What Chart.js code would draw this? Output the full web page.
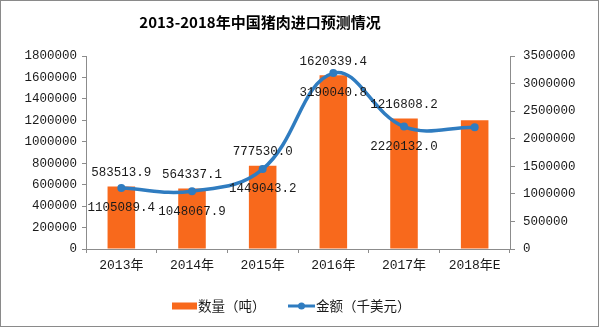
<!DOCTYPE html>
<html>
<head>
<meta charset="utf-8">
<script src="https://cdn.jsdelivr.net/npm/chart.js@4/dist/chart.umd.min.js"></script>
<style>
  html, body { margin: 0; padding: 0; background: #fff; }
  #wrap { width: 599px; height: 327px; }
</style>
</head>
<body>
<div id="wrap"><canvas id="c" width="599" height="327"></canvas></div>
<script>
// 2013-2018 China pork imports: volume (tonnes) and value (thousand USD)
const categories = ['2013年', '2014年', '2015年', '2016年', '2017年', '2018年E'];
const volumeTonnes = [583513.9, 564337.1, 777530.0, 1620339.4, 1216808.2, 1200000];
const valueKUsd = [1105089.4, 1048067.9, 1449043.2, 3190040.8, 2220132.0, 2210000];
const hasLabel = [true, true, true, true, true, false];
const leftTicks = { min: 0, max: 1800000, step: 200000 };
const rightTicks = { min: 0, max: 3500000, step: 500000 };

const titleText = '2013-2018年中国猪肉进口预测情况';
const barName = '数量（吨）';
const lineName = '金额（千美元）';

const BAR_COLOR = '#F8691C';
const LINE_COLOR = '#2F7CC0';
const AXIS_COLOR = '#8c8c8c';
const TEXT_COLOR = '#1a1a1a';
const NUM_FONT = '"Liberation Mono", "Noto Sans CJK SC", monospace';
const CJK_FONT = '"Noto Sans CJK SC", sans-serif';

const plainNumber = v => String(v);

const decorPlugin = {
  id: 'decor',
  afterDatasetsDraw(chart) {
    const ctx = chart.ctx;
    ctx.save();
    ctx.font = '12.5px ' + NUM_FONT;
    ctx.fillStyle = TEXT_COLOR;
    ctx.textAlign = 'center';
    ctx.textBaseline = 'middle';
    const barMeta = chart.getDatasetMeta(0);
    const lineMeta = chart.getDatasetMeta(1);
    barMeta.data.forEach((el, i) => {
      if (!hasLabel[i]) return;
      ctx.fillText(volumeTonnes[i].toFixed(1), el.x, el.y - 14);
    });
    lineMeta.data.forEach((el, i) => {
      if (!hasLabel[i]) return;
      ctx.fillText(valueKUsd[i].toFixed(1), el.x, el.y + 20);
    });
    ctx.restore();
  },
  afterDraw(chart) {
    const ctx = chart.ctx;
    ctx.save();
    // title
    ctx.font = 'bold 15px ' + CJK_FONT;
    ctx.fillStyle = '#000';
    ctx.textAlign = 'center';
    ctx.textBaseline = 'middle';
    ctx.fillText(titleText, 260, 22);

    // legend
    const ly = 306;
    ctx.font = '13.5px ' + CJK_FONT;
    ctx.textAlign = 'left';
    ctx.fillStyle = BAR_COLOR;
    ctx.fillRect(172, ly - 3.5, 25, 7);
    ctx.fillStyle = TEXT_COLOR;
    ctx.fillText(barName, 198, ly);

    ctx.strokeStyle = LINE_COLOR;
    ctx.lineWidth = 3;
    ctx.beginPath();
    ctx.moveTo(288, ly);
    ctx.lineTo(315, ly);
    ctx.stroke();
    ctx.fillStyle = LINE_COLOR;
    ctx.beginPath();
    ctx.arc(301.5, ly, 3.5, 0, Math.PI * 2);
    ctx.fill();
    ctx.fillStyle = TEXT_COLOR;
    ctx.fillText(lineName, 316, ly);

    // outer frame
    ctx.strokeStyle = '#8a8a8a';
    ctx.lineWidth = 1;
    ctx.strokeRect(0.5, 0.5, 598, 326);
    ctx.restore();
  }
};

new Chart(document.getElementById('c'), {
  data: {
    labels: categories,
    datasets: [
      {
        type: 'bar',
        label: barName,
        data: volumeTonnes,
        backgroundColor: BAR_COLOR,
        yAxisID: 'y',
        barPercentage: 0.39,
        categoryPercentage: 1,
        order: 1
      },
      {
        type: 'line',
        label: lineName,
        data: valueKUsd,
        borderColor: LINE_COLOR,
        backgroundColor: LINE_COLOR,
        borderWidth: 3.5,
        pointRadius: 4,
        pointBackgroundColor: LINE_COLOR,
        pointBorderWidth: 0,
        tension: 0.4,
        yAxisID: 'y1',
        order: 0
      }
    ]
  },
  options: {
    responsive: false,
    animation: false,
    devicePixelRatio: 1,
    layout: { padding: { top: 56, left: 0, right: 0, bottom: 0 } },
    plugins: {
      legend: { display: false },
      title: { display: false },
      tooltip: { enabled: false }
    },
    scales: {
      x: {
        offset: true,
        grid: { offset: true, drawOnChartArea: false, tickLength: 4, color: AXIS_COLOR },
        border: { color: AXIS_COLOR },
        ticks: { color: TEXT_COLOR, font: { family: NUM_FONT, size: 13 }, padding: 5, maxRotation: 0 },
        afterFit(s) { s.height = 78; }
      },
      y: {
        position: 'left',
        min: leftTicks.min,
        max: leftTicks.max,
        grid: { drawOnChartArea: false, tickLength: 4, color: AXIS_COLOR },
        border: { color: AXIS_COLOR },
        ticks: { stepSize: leftTicks.step, callback: plainNumber, color: TEXT_COLOR, font: { family: NUM_FONT, size: 12.5 }, padding: 5 },
        afterFit(s) { s.width = 86; }
      },
      y1: {
        position: 'right',
        min: rightTicks.min,
        max: rightTicks.max,
        grid: { drawOnChartArea: false, tickLength: 5, color: AXIS_COLOR },
        border: { color: AXIS_COLOR },
        ticks: { stepSize: rightTicks.step, callback: plainNumber, color: TEXT_COLOR, font: { family: NUM_FONT, size: 12.5 }, padding: 8 },
        afterFit(s) { s.width = 89; }
      }
    }
  },
  plugins: [decorPlugin]
});
</script>
</body>
</html>
